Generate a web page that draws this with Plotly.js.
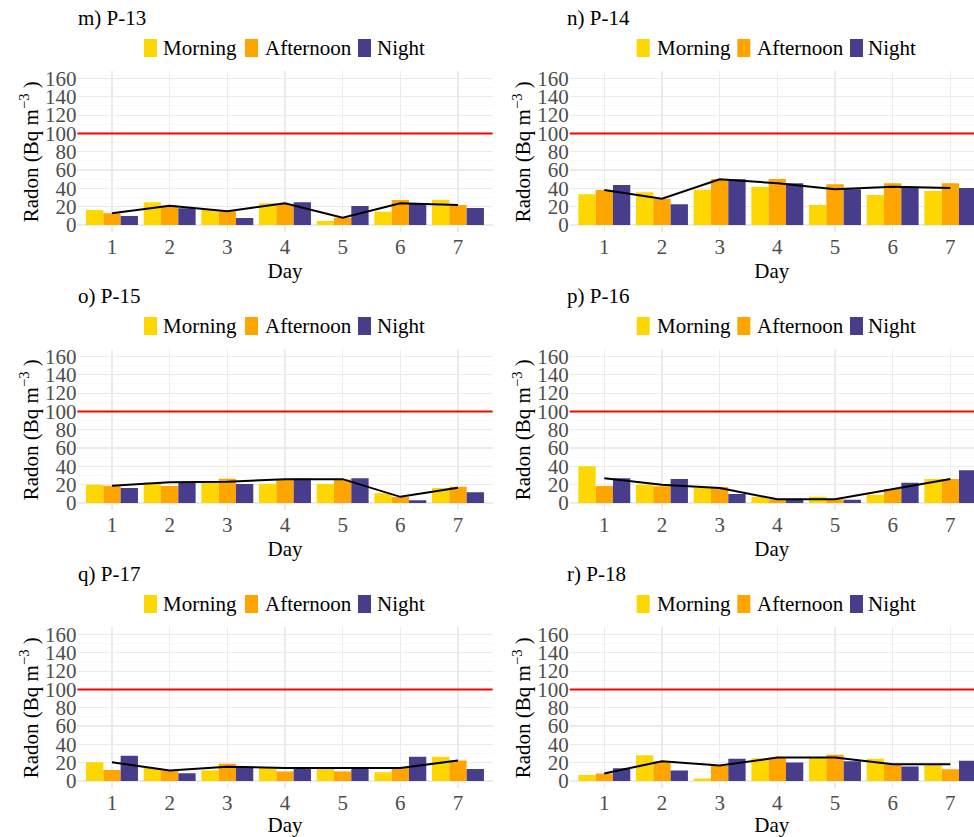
<!DOCTYPE html>
<html><head><meta charset="utf-8">
<script src="https://cdn.plot.ly/plotly-3.0.1.min.js"></script>
<style>body{margin:0;padding:0;background:#fff}#chart{width:974px;height:837px}</style>
</head><body><div id="chart"></div>
<script>
const days = [1, 2, 3, 4, 5, 6, 7];
const periods = ['Morning', 'Afternoon', 'Night'];
const panelTitles = ['m) P-13', 'n) P-14', 'o) P-15', 'p) P-16', 'q) P-17', 'r) P-18'];
const yTickVals = [0, 20, 40, 60, 80, 100, 120, 140, 160];
const referenceLevel = 100;

const p13Morning   = [16.4, 24.7, 16.4, 23.6, 4.4, 14.5, 27.3];
const p13Afternoon = [12.7, 21.0, 15.0, 23.0, 8.0, 27.3, 21.8];
const p13Night     = [9.8, 18.2, 7.6, 24.7, 20.7, 23.6, 18.5];
const p13Line      = [12.7, 21.0, 15.0, 23.6, 8.0, 23.6, 21.8];

const p14Morning   = [33.5, 35.6, 38.5, 41.5, 21.8, 32.7, 37.0];
const p14Afternoon = [38.2, 28.7, 50.2, 50.2, 44.4, 45.5, 45.5];
const p14Night     = [43.6, 22.5, 50.0, 45.5, 38.9, 41.8, 40.4];
const p14Line      = [38.2, 28.7, 50.0, 45.5, 38.9, 41.8, 40.4];

const p15Morning   = [20.0, 22.5, 22.9, 21.0, 20.7, 10.5, 16.4];
const p15Afternoon = [18.9, 18.5, 26.5, 25.5, 25.5, 6.5, 17.8];
const p15Night     = [16.4, 22.9, 20.7, 26.5, 26.9, 2.9, 11.6];
const p15Line      = [18.9, 22.7, 23.2, 26.0, 26.0, 6.7, 16.6];

const p16Morning   = [40.0, 20.0, 16.4, 6.5, 6.9, 9.0, 26.2];
const p16Afternoon = [18.5, 18.2, 17.5, 4.0, 4.0, 15.3, 26.2];
const p16Night     = [26.9, 26.2, 9.8, 4.0, 3.6, 22.2, 35.6];
const p16Line      = [26.9, 20.0, 16.4, 4.0, 4.0, 15.3, 26.2];

const p17Morning   = [20.5, 14.3, 11.7, 14.7, 13.9, 9.5, 26.4];
const p17Afternoon = [12.1, 11.4, 18.7, 10.3, 10.3, 14.3, 22.3];
const p17Night     = [27.5, 8.4, 15.4, 14.3, 14.3, 26.4, 13.2];
const p17Line      = [20.5, 11.4, 15.4, 14.3, 14.3, 14.3, 22.3];

const p18Morning   = [6.6, 28.2, 2.6, 24.9, 25.6, 24.2, 18.3];
const p18Afternoon = [8.1, 21.6, 16.8, 25.6, 28.6, 18.3, 12.8];
const p18Night     = [13.9, 11.4, 24.2, 20.1, 21.6, 15.8, 22.0];
const p18Line      = [8.1, 21.6, 16.8, 25.6, 25.6, 18.3, 18.3];

const panelSeries = [
  [p13Morning, p13Afternoon, p13Night, p13Line],
  [p14Morning, p14Afternoon, p14Night, p14Line],
  [p15Morning, p15Afternoon, p15Night, p15Line],
  [p16Morning, p16Afternoon, p16Night, p16Line],
  [p17Morning, p17Afternoon, p17Night, p17Line],
  [p18Morning, p18Afternoon, p18Night, p18Line]
];

const colors = ['#FFD700', '#FFA500', '#483D8B'];
const FONT = 'Liberation Serif, Times New Roman, serif';
const W = 974, H = 837;

const colDom = [[77.4 / W, 492.6 / W], [569.7 / W, 1]];
const colRange = [[0.4, 7.6], [0.4, 7.41]];
const rowTop = [71.1, 349.1, 627.1];
const rowBot = [232.3, 510.3, 788.3];
const legendY = [48, 326, 604];
const legendKeyX = [[144, 245, 358], [636.7, 737.3, 850]];
const legendTextX = [[161, 263, 375], [654.5, 754.5, 866]];
const titleY = [18, 296, 574];
const titleX = [76, 565];

const data = [];
const layout = {
  width: W, height: H,
  margin: {l: 0, r: 0, t: 0, b: 0},
  paper_bgcolor: '#fff', plot_bgcolor: '#fff',
  barmode: 'group', bargap: 0.1, bargroupgap: 0,
  font: {family: FONT, size: 21, color: '#000'},
  showlegend: false,
  shapes: [], annotations: []
};

for (let i = 0; i < 6; i++) {
  const col = i % 2, row = Math.floor(i / 2);
  const sfx = i === 0 ? '' : String(i + 1);
  const xa = 'x' + sfx, ya = 'y' + sfx;
  const s = panelSeries[i];
  for (let k = 0; k < 3; k++) {
    data.push({
      type: 'bar', x: days, y: s[k], name: periods[k],
      marker: {color: colors[k], line: {width: 0}},
      xaxis: xa, yaxis: ya, hoverinfo: 'x+y+name'
    });
    // legend key + label for this panel
    layout.shapes.push({
      type: 'rect', xref: 'paper', yref: 'paper',
      x0: legendKeyX[col][k] / W, x1: (legendKeyX[col][k] + 13) / W,
      y0: 1 - (legendY[row] + 9) / H, y1: 1 - (legendY[row] - 9) / H,
      fillcolor: colors[k], line: {width: 0}
    });
    layout.annotations.push({
      text: periods[k], xref: 'paper', yref: 'paper',
      x: legendTextX[col][k] / W, y: 1 - legendY[row] / H,
      xanchor: 'left', yanchor: 'middle', showarrow: false,
      font: {family: FONT, size: 21, color: '#000'}
    });
  }
  data.push({
    type: 'scatter', mode: 'lines', x: days, y: s[3],
    line: {color: '#000', width: 2}, showlegend: false,
    xaxis: xa, yaxis: ya
  });

  layout['xaxis' + sfx] = {
    domain: colDom[col], anchor: ya, range: colRange[col],
    tickvals: days, ticktext: days.map(String),
    showgrid: true, gridcolor: '#ebebeb', gridwidth: 1.1,
    zeroline: false, showline: false, ticks: '',
    tickfont: {family: FONT, size: 21, color: '#4d4d4d'},
    title: {text: 'Day', font: {family: FONT, size: 21, color: '#000'}, standoff: 0}
  };
  layout['yaxis' + sfx] = {
    domain: [1 - rowBot[row] / H, 1 - rowTop[row] / H], anchor: xa,
    range: [-8, 168], tickvals: yTickVals,
    showgrid: true, gridcolor: '#ebebeb', gridwidth: 1.1,
    minor: {dtick: 10, tick0: 0, showgrid: true, gridcolor: '#f3f3f3', gridwidth: 0.6, ticks: ''},
    zeroline: false, showline: false, ticks: '',
    tickfont: {family: FONT, size: 21, color: '#4d4d4d'},
    title: {text: 'Radon (Bq m<sup>\u22123</sup> )', font: {family: FONT, size: 21, color: '#000'}, standoff: 0}
  };
  layout.shapes.push({
    type: 'line', xref: xa + ' domain', x0: 0, x1: 1, yref: ya, y0: referenceLevel, y1: referenceLevel,
    line: {color: '#ff0000', width: 2}, layer: 'above'
  });
  layout.annotations.push({
    text: panelTitles[i], xref: 'paper', yref: 'paper',
    x: titleX[col] / W, y: 1 - titleY[row] / H, xanchor: 'left', yanchor: 'middle',
    showarrow: false, font: {family: FONT, size: 21, color: '#000'}
  });
}

Plotly.newPlot('chart', data, layout, {displayModeBar: false, staticPlot: true});
</script></body></html>
